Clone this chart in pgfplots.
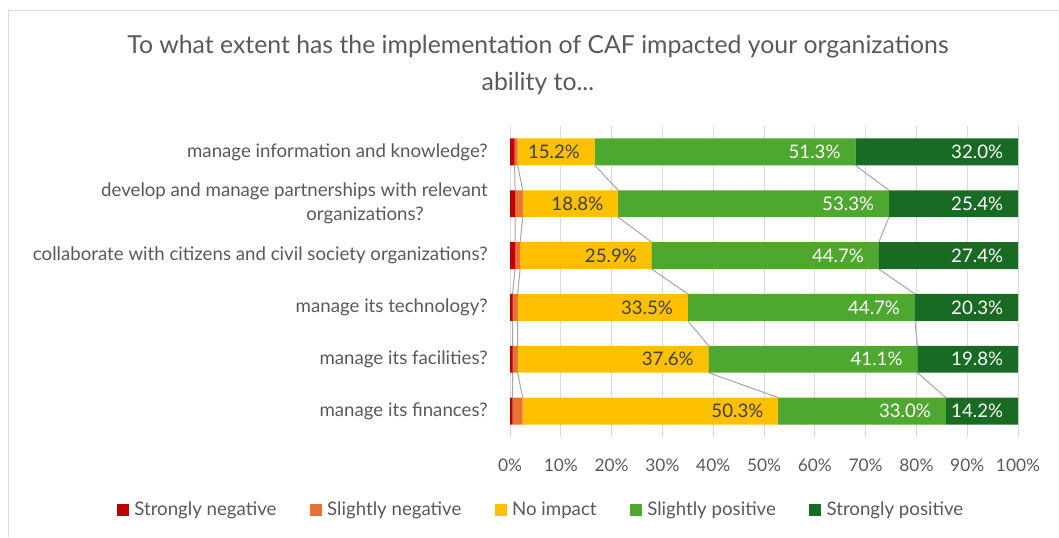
\documentclass[border=0pt]{standalone}
\usepackage{pgfplots}
\usepackage{pgfplotstable}
\pgfplotsset{compat=1.18}
\usepackage{fontspec}
\setmainfont{Lato}
\definecolor{cred}{HTML}{C00000}
\definecolor{corange}{HTML}{E97132}
\definecolor{cyellow}{HTML}{FFC000}
\definecolor{clgreen}{HTML}{4EA72E}
\definecolor{cdgreen}{HTML}{196B24}
\definecolor{ctext}{HTML}{595959}
\definecolor{cgrid}{HTML}{D9D9D9}
\definecolor{cser}{HTML}{A6A6A6}
\definecolor{clab}{HTML}{404040}

\pgfplotstableread{
y sneg slneg noimp slpos stpos
0 0.5 2.0 50.3 33.0 14.2
1 0.5 1.0 37.6 41.1 19.8
2 0.5 1.0 33.5 44.7 20.3
3 1.0 1.0 25.9 44.7 27.4
4 1.0 1.5 18.8 53.3 25.4
5 0.9 0.6 15.2 51.3 32.0
}\data

\pgfplotsset{
  common/.style={
    at={(382.5pt,75pt)}, anchor=south west,
    scale only axis, width=381pt, height=233.25pt,
    xmin=0, xmax=100, ymin=-0.5, ymax=5.5,
    axis line style={draw=none},
    major tick length=0pt,
    tick style={draw=none},
  },
  seglabel/.style={
    nodes near coords={\pgfmathprintnumber[fixed,fixed zerofill,precision=1]{\pgfplotspointmeta}\%},
    visualization depends on=rawx \as \rawx,
    every node near coord/.append style={anchor=east, inner sep=0pt,
      xshift={\rawx*1.905pt-11pt}, font=\fontsize{14}{16}\selectfont, text=#1},
  },
}

\begin{document}
\begin{tikzpicture}
\useasboundingbox (0,0) rectangle (794.25pt,402.75pt);
\draw[cgrid, line width=0.75pt] (6pt,0pt) -- (6pt,394.5pt) -- (794.25pt,394.5pt);

% grid and series lines
\begin{axis}[common,
  xtick={0,10,...,100}, xticklabels={},
  ytick=\empty,
  xmajorgrids, major grid style={draw=cgrid, line width=0.75pt},
]
\addplot[cser, line width=0.75pt] coordinates {(0.9,4.74) (1.0,4.26) (1.0,3.74) (1.0,3.26) (1.0,2.74) (0.5,2.26) (0.5,1.74) (0.5,1.26) (0.5,0.74) (0.5,0.26)};
\addplot[cser, line width=0.75pt] coordinates {(1.5,4.74) (2.5,4.26) (2.5,3.74) (2.0,3.26) (2.0,2.74) (1.5,2.26) (1.5,1.74) (1.5,1.26) (1.5,0.74) (2.5,0.26)};
\addplot[cser, line width=0.75pt] coordinates {(16.7,4.74) (21.3,4.26) (21.3,3.74) (27.9,3.26) (27.9,2.74) (35.0,2.26) (35.0,1.74) (39.1,1.26) (39.1,0.74) (52.8,0.26)};
\addplot[cser, line width=0.75pt] coordinates {(68.0,4.74) (74.6,4.26) (74.6,3.74) (72.6,3.26) (72.6,2.74) (79.7,2.26) (79.7,1.74) (80.2,1.26) (80.2,0.74) (85.8,0.26)};
\end{axis}

% bars
\begin{axis}[common,
  xbar stacked, bar width=0.52,
  xtick={0,10,...,100},
  xticklabels={0\%,10\%,20\%,30\%,40\%,50\%,60\%,70\%,80\%,90\%,100\%},
  xticklabel style={font=\fontsize{13}{15}\selectfont, text=ctext, anchor=north, inner sep=0pt, yshift=-16pt},
  ytick={0,1,2,3,4,5},
  yticklabels={manage its finances?, manage its facilities?, manage its technology?, collaborate with citizens and civil society organizations?, {develop and manage partnerships with relevant\\organizations?\hspace*{48pt}}, manage information and knowledge?},
  yticklabel style={font=\fontsize{14}{18}\selectfont, text=ctext, align=right, anchor=east, inner sep=0pt, xshift=-16.5pt},
  title={To what extent has the implementation of CAF impacted your organizations\\ability to...},
  title style={at={(0.055,1.17)}, anchor=center, align=center, font=\fontsize{18.6}{27.75}\selectfont, text=ctext},
  legend columns=5,
  legend style={at={(0.062,-0.235)}, anchor=center, draw=none, fill=none,
    font=\fontsize{14}{16}\selectfont, text=ctext,
    /tikz/every even column/.append style={column sep=23pt},
    /tikz/every odd column/.append style={column sep=2pt}},
  legend image code/.code={\fill[#1] (0pt,-4.5pt) rectangle (9pt,4.5pt);},
  point meta=rawx,
  /pgf/number format/assume math mode=true,
]
\addplot[fill=cred, draw=none] table[x=sneg, y=y] {\data};
\addplot[fill=corange, draw=none] table[x=slneg, y=y] {\data};
\addplot[fill=cyellow, draw=none, seglabel=clab] table[x=noimp, y=y] {\data};
\addplot[fill=clgreen, draw=none, seglabel=white] table[x=slpos, y=y] {\data};
\addplot[fill=cdgreen, draw=none, seglabel=white] table[x=stpos, y=y] {\data};
\legend{Strongly negative, Slightly negative, No impact, Slightly positive, Strongly positive}
\end{axis}
\end{tikzpicture}
\end{document}
